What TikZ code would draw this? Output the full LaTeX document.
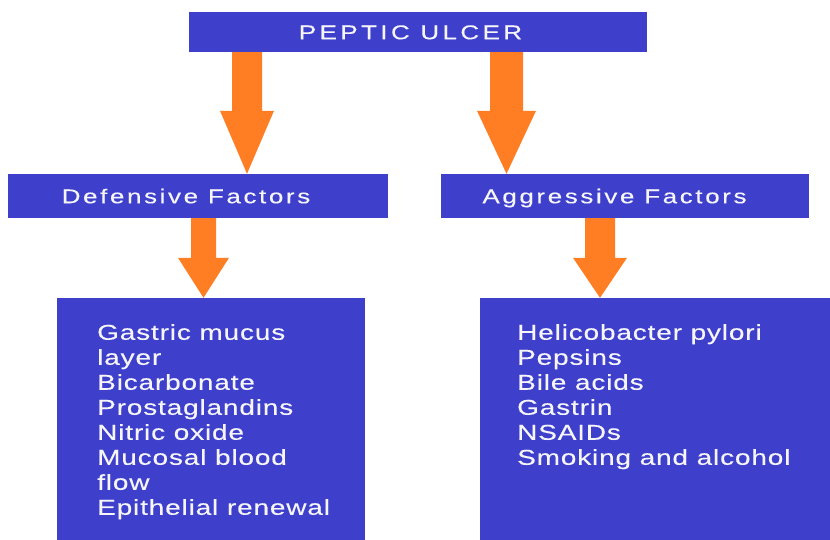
\documentclass[tikz,border=0pt]{standalone}
\usepackage{fontspec}
\setmainfont{Liberation Sans}[FakeStretch=1.3]
\newfontfamily\titlefont{Liberation Sans}[FakeStretch=1.3,LetterSpace=17,FakeBold=0.3]
\newfontfamily\hdrfont{Liberation Sans}[FakeStretch=1.3,LetterSpace=13,FakeBold=0.3]
\newfontfamily\listfont{Liberation Sans}[FakeStretch=1.3,LetterSpace=4,FakeBold=0.3]
\usetikzlibrary{calc}
\definecolor{boxblue}{RGB}{62,64,204}
\definecolor{arroworange}{RGB}{255,125,35}
\definecolor{txtwhite}{RGB}{245,245,250}
% #1 x coordinate name, #2 from node, #3 to node, #4 half shaft, #5 half head, #6 head length
\newcommand\fatarrow[6]{%
  \fill[arrowc] ($(#1 |- #2.south)+(-#4,0)$) -- ($(#1 |- #2.south)+(#4,0)$)
    -- ($(#1 |- #3.north)+(#4,-#6)$) -- ($(#1 |- #3.north)+(#5,-#6)$)
    -- (#1 |- #3.north) -- ($(#1 |- #3.north)+(-#5,-#6)$)
    -- ($(#1 |- #3.north)+(-#4,-#6)$) -- cycle;}
\begin{document}
\begin{tikzpicture}[x=1pt,y=-1pt,
  bluebox/.style={fill=boxblue, draw=none, inner sep=0pt, rectangle},
  hdr/.style={bluebox, text=txtwhite, font=\hdrfont\fontsize{20}{24}\selectfont,
    text height=14.5pt, text depth=0pt},
  listtext/.style={text=txtwhite, font=\listfont\fontsize{21.5}{25}\selectfont,
    align=left, inner sep=0pt, anchor=north west},
  arrowc/.style={fill=arroworange}]
\fill[white] (0,0) rectangle (830,540);
\useasboundingbox (0,0) rectangle (830,540);
% header boxes
\node[hdr, font=\titlefont\fontsize{20}{24}\selectfont, minimum width=458pt, minimum height=40pt] (top) at (418,32) {\hspace*{-15pt}PEPTIC ULCER};
\node[hdr, minimum width=380pt, minimum height=44pt] (def) at (198,196) {\hspace*{-24pt}Defensive Factors};
\node[hdr, minimum width=368pt, minimum height=44pt] (agg) at (625,196) {\hspace*{-21pt}Aggressive Factors};
% list boxes
\node[bluebox, minimum width=308pt, minimum height=247pt] (defbox) at (211,421.5) {};
\node[bluebox, minimum width=355pt, minimum height=247pt] (aggbox) at (657.5,421.5) {};
\node[listtext] (deflist) at (97,324) {Gastric mucus\\layer\\Bicarbonate\\Prostaglandins\\Nitric oxide\\Mucosal blood\\flow\\Epithelial renewal};
\node[listtext] (agglist) at (517,324) {Helicobacter pylori\\Pepsins\\Bile acids\\Gastrin\\NSAIDs\\Smoking and alcohol};
% arrow axes
\coordinate (xa) at (247,0);
\coordinate (xb) at (506.5,0);
\coordinate (xc) at (203.5,0);
\coordinate (xd) at (600,0);
\fatarrow{xa}{top}{def}{15}{27}{63}
\fatarrow{xb}{top}{agg}{16.5}{29.5}{63}
\fatarrow{xc}{def}{defbox}{12.5}{25.5}{40}
\fatarrow{xd}{agg}{aggbox}{15}{27}{40}
\end{tikzpicture}
\end{document}
